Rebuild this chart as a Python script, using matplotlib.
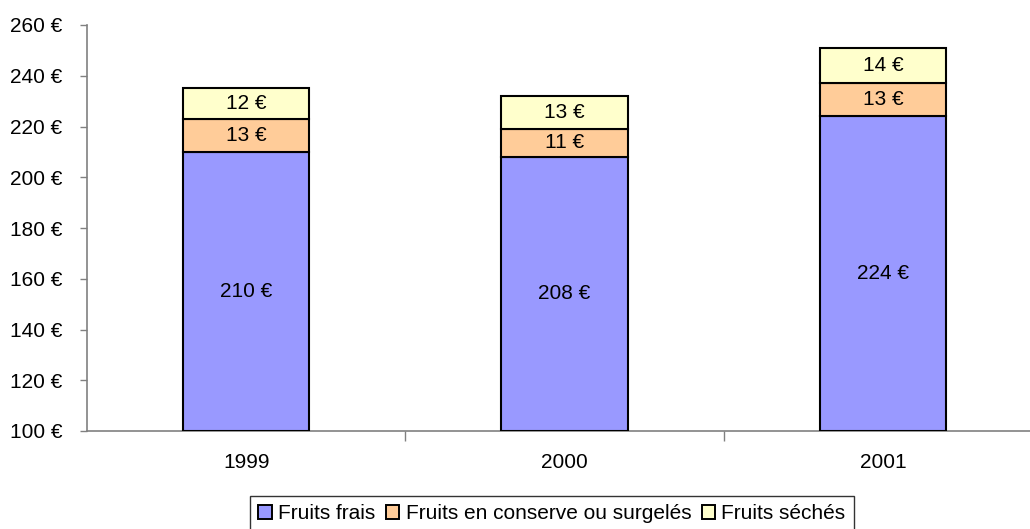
import matplotlib
matplotlib.use("Agg")
import matplotlib.pyplot as plt
from matplotlib.patches import Patch

plt.rcParams['font.family'] = ['Liberation Sans', 'DejaVu Sans']

years = ['1999', '2000', '2001']
frais = [210, 208, 224]
conserve = [13, 11, 13]
seches = [12, 13, 14]
series_names = ['Fruits frais', 'Fruits en conserve ou surgelés', 'Fruits séchés']
colors = ['#9999FF', '#FFCC99', '#FFFFCC']
yticks = [100, 120, 140, 160, 180, 200, 220, 240, 260]

FS = 15

fig = plt.figure(figsize=(10.30, 5.29), dpi=100)
ax = fig.add_axes([87/1030, 1-431/529, (1042-87)/1030, (431-25)/529])

x = list(range(len(years)))
w = 0.397
bottom = [100]*3
stacks = [frais, conserve, seches]
for vals, c in zip(stacks, colors):
    heights = [v - 100 if b == 100 else v for v, b in zip(vals, bottom)]
    ax.bar(x, heights, w, bottom=bottom, color=c, edgecolor='black', linewidth=1.5, zorder=3)
    for xi, b, h, v in zip(x, bottom, heights, vals):
        ax.text(xi, b + h/2, f'{v} €', ha='center', va='center', fontsize=FS, zorder=4)
    bottom = [b + h for b, h in zip(bottom, heights)]

ax.set_xlim(-0.5, 2.5)
ax.set_ylim(100, 260)
ax.set_yticks(yticks)
ax.set_yticklabels([f'{t} €' for t in yticks], fontsize=FS)
ax.set_xticks(x)
ax.set_xticklabels(years, fontsize=FS)
ax.tick_params(axis='x', length=0, pad=16)
ax.set_xticks([0.5, 1.5], minor=True)
ax.tick_params(axis='x', which='minor', length=7, direction='out', color='#808080', width=1)
ax.tick_params(axis='y', length=5, direction='out', color='#808080', width=1, pad=13)
for s in ['top', 'right']:
    ax.spines[s].set_visible(False)
for s in ['left', 'bottom']:
    ax.spines[s].set_color('#808080')
    ax.spines[s].set_linewidth(1.2)

handles = [Patch(facecolor=c, edgecolor='black', linewidth=1.4) for c in colors]
leg = fig.legend(handles, series_names, loc='upper left', bbox_to_anchor=(250/1030, 1-496/529),
                 ncol=3, fontsize=FS, frameon=True, fancybox=False, edgecolor='black',
                 handlelength=0.65, handleheight=0.65, handletextpad=0.3, columnspacing=0.5,
                 borderpad=0.4, borderaxespad=0)
leg.get_frame().set_linewidth(1.0)

fig.savefig('out.png', dpi=100)
